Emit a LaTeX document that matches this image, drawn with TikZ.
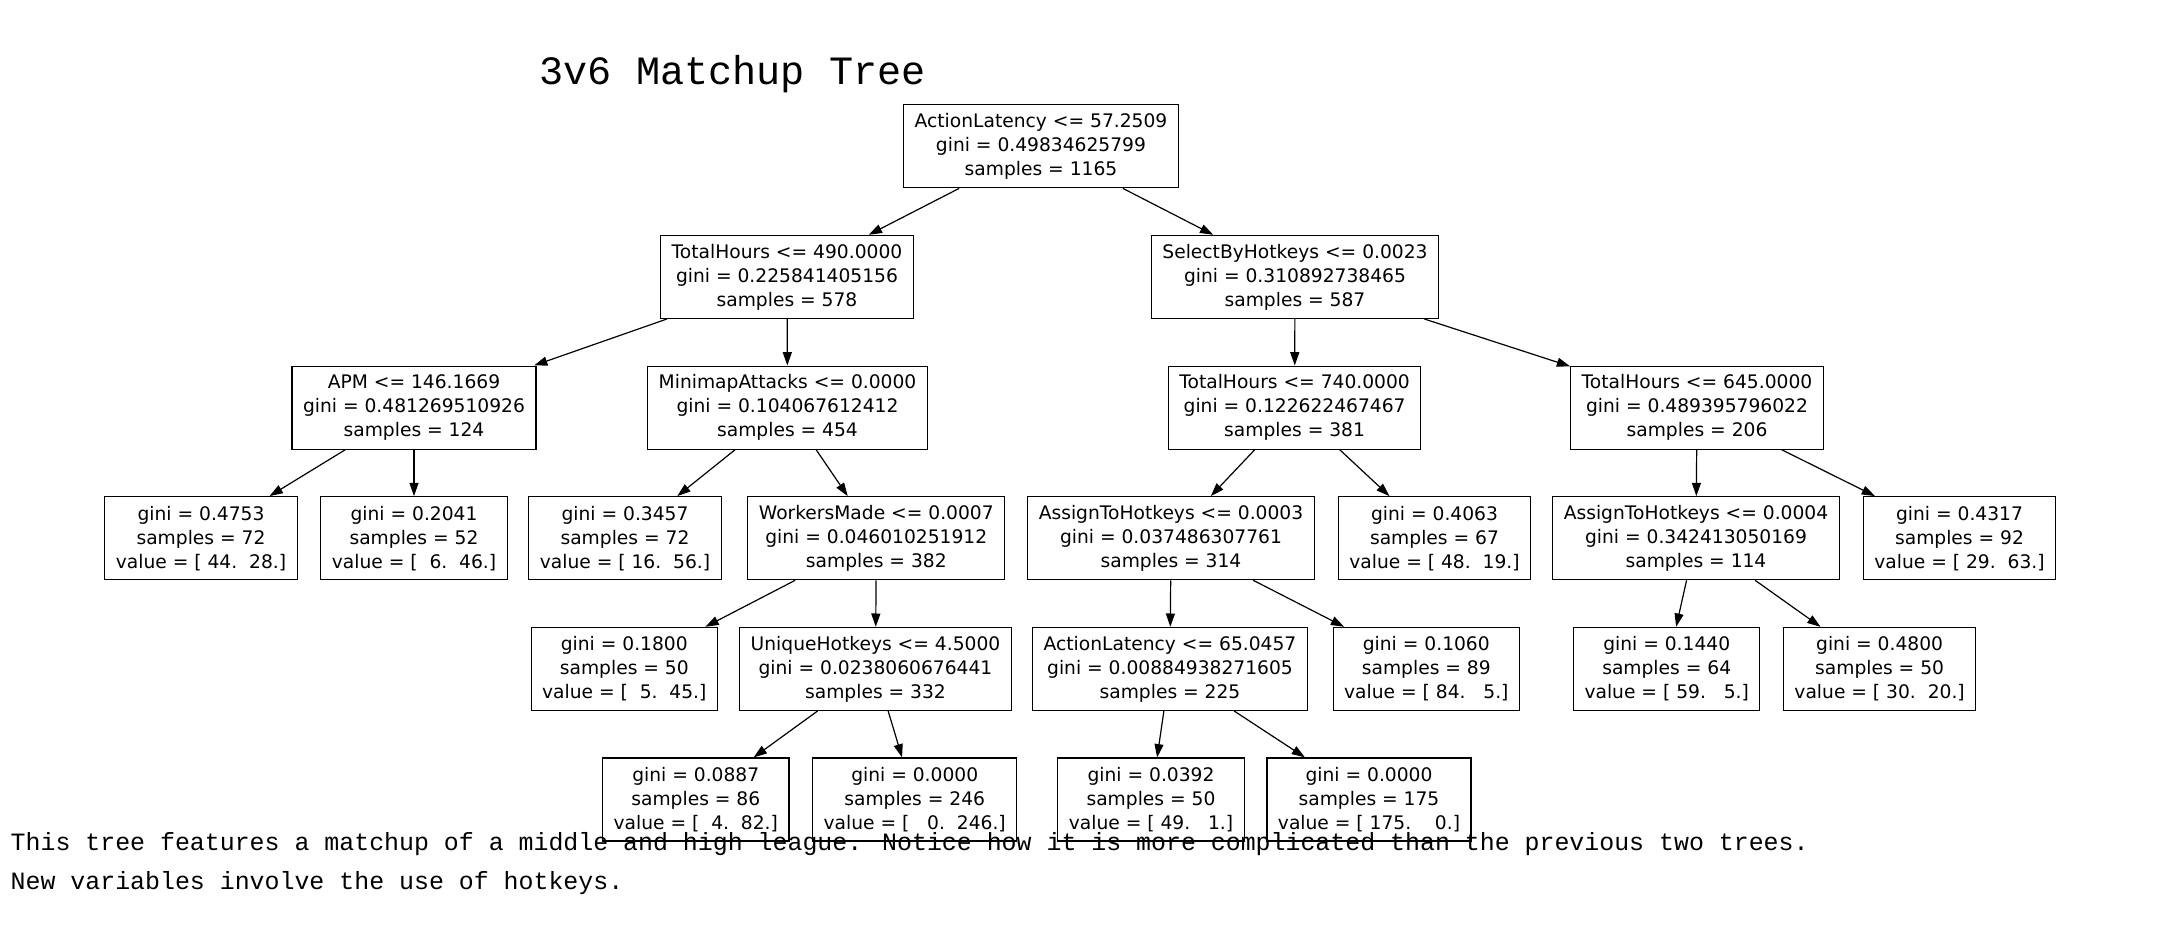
\documentclass[tikz,border=0pt]{standalone}
\usepackage{fontspec}
\usetikzlibrary{arrows.meta}
\newfontfamily\nodefnt{DejaVu Sans}
\newfontfamily\monofnt{Liberation Mono}
\tikzset{
  tn/.style={draw=black, line width=1.2pt, rectangle, align=center,
    minimum height=83pt, inner xsep=11pt, inner ysep=0pt,
    font={\nodefnt\fontsize{18.67}{24}\selectfont}},
  conn/.style={line width=1.2pt, -{Triangle[length=13.3pt,width=9pt]}},
  captxt/.style={anchor=base west, inner sep=0pt, font={\monofnt\fontsize{24.9}{30}\selectfont}}
}
\begin{document}
\begin{tikzpicture}[x=1pt,y=-1pt]
\useasboundingbox[fill=white] (0,0) rectangle (2161,947);
% row 1
\node[tn] (root) at (1041,146.3) {ActionLatency <= 57.2509\\gini = 0.49834625799\\samples = 1165};
% row 2
\node[tn] (th490) at (787,276.9) {TotalHours <= 490.0000\\gini = 0.225841405156\\samples = 578};
\node[tn] (sbh) at (1295,276.9) {SelectByHotkeys <= 0.0023\\gini = 0.310892738465\\samples = 587};
% row 3
\node[tn] (apm) at (414,407.6) {APM <= 146.1669\\gini = 0.481269510926\\samples = 124};
\node[tn] (mini) at (787.5,407.6) {MinimapAttacks <= 0.0000\\gini = 0.104067612412\\samples = 454};
\node[tn] (th740) at (1294.6,407.6) {TotalHours <= 740.0000\\gini = 0.122622467467\\samples = 381};
\node[tn] (th645) at (1697,407.6) {TotalHours <= 645.0000\\gini = 0.489395796022\\samples = 206};
% row 4
\node[tn] (l4753) at (201,538.2) {gini = 0.4753\\samples = 72\\value = [~44.~~28.]};
\node[tn] (l2041) at (414,538.2) {gini = 0.2041\\samples = 52\\value = [~~6.~~46.]};
\node[tn] (l3457) at (625,538.2) {gini = 0.3457\\samples = 72\\value = [~16.~~56.]};
\node[tn] (wm) at (876.3,538.2) {WorkersMade <= 0.0007\\gini = 0.046010251912\\samples = 382};
\node[tn] (ath3) at (1171,538.2) {AssignToHotkeys <= 0.0003\\gini = 0.037486307761\\samples = 314};
\node[tn] (l4063) at (1434.5,538.2) {gini = 0.4063\\samples = 67\\value = [~48.~~19.]};
\node[tn] (ath4) at (1696,538.2) {AssignToHotkeys <= 0.0004\\gini = 0.342413050169\\samples = 114};
\node[tn] (l4317) at (1959.5,538.2) {gini = 0.4317\\samples = 92\\value = [~29.~~63.]};
% row 5
\node[tn] (l1800) at (624.3,668.9) {gini = 0.1800\\samples = 50\\value = [~~5.~~45.]};
\node[tn] (uh) at (875.5,668.9) {UniqueHotkeys <= 4.5000\\gini = 0.0238060676441\\samples = 332};
\node[tn] (al65) at (1170,668.9) {ActionLatency <= 65.0457\\gini = 0.00884938271605\\samples = 225};
\node[tn] (l1060) at (1426.3,668.9) {gini = 0.1060\\samples = 89\\value = [~84.~~~5.]};
\node[tn] (l1440) at (1666.7,668.9) {gini = 0.1440\\samples = 64\\value = [~59.~~~5.]};
\node[tn] (l4800) at (1879.6,668.9) {gini = 0.4800\\samples = 50\\value = [~30.~~20.]};
% row 6
\node[tn] (l0887) at (695.8,799.5) {gini = 0.0887\\samples = 86\\value = [~~4.~~82.]};
\node[tn] (l0000a) at (914.7,799.5) {gini = 0.0000\\samples = 246\\value = [~~~0.~~246.]};
\node[tn] (l0392) at (1151,799.5) {gini = 0.0392\\samples = 50\\value = [~49.~~~1.]};
\node[tn] (l0000b) at (1369,799.5) {gini = 0.0000\\samples = 175\\value = [~175.~~~~0.]};
% connectors
\draw[conn] (root) -- (th490);
\draw[conn] (root) -- (sbh);
\draw[conn] (th490) -- (apm);
\draw[conn] (th490) -- (mini);
\draw[conn] (apm) -- (l4753);
\draw[conn] (apm) -- (l2041);
\draw[conn] (mini) -- (l3457);
\draw[conn] (mini) -- (wm);
\draw[conn] (wm) -- (l1800);
\draw[conn] (wm) -- (uh);
\draw[conn] (uh) -- (l0887);
\draw[conn] (uh) -- (l0000a);
\draw[conn] (sbh) -- (th740);
\draw[conn] (sbh) -- (th645);
\draw[conn] (th740) -- (ath3);
\draw[conn] (th740) -- (l4063);
\draw[conn] (ath3) -- (al65);
\draw[conn] (ath3) -- (l1060);
\draw[conn] (al65) -- (l0392);
\draw[conn] (al65) -- (l0000b);
\draw[conn] (th645) -- (ath4);
\draw[conn] (th645) -- (l4317);
\draw[conn] (ath4) -- (l1440);
\draw[conn] (ath4) -- (l4800);
% title and caption
\node[anchor=base west, inner sep=0pt, font={\monofnt\fontsize{40.2}{48}\selectfont}] (title) at (539.5,84.3) {3v6 Matchup Tree};
\node[captxt] (cap1) at (10.5,850) {This tree features a matchup of a middle and high league. Notice how it is more complicated than the previous two trees.};
\node[captxt] (cap2) at (10.5,889) {New variables involve the use of hotkeys.};
\end{tikzpicture}
\end{document}
